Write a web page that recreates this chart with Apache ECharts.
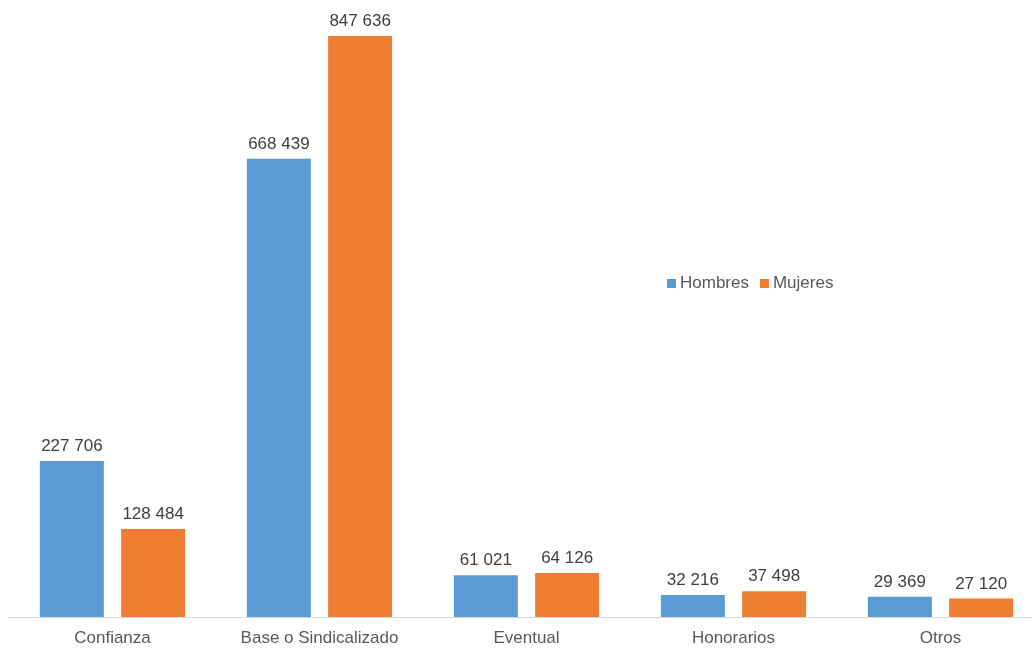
<!DOCTYPE html>
<html>
<head>
<meta charset="utf-8">
<script src="https://cdn.jsdelivr.net/npm/echarts@6/dist/echarts.min.js"></script>
<style>
  html, body { margin: 0; padding: 0; background: #ffffff; overflow: hidden; }
  /* the last category runs slightly past the right edge of the page */
  #chart { width: 1044px; height: 648px; }
</style>
</head>
<body>
<div id="chart"></div>
<script>
// Personas por tipo de contratación, según sexo
const categories = ['Confianza', 'Base o Sindicalizado', 'Eventual', 'Honorarios', 'Otros'];
const hombres = [227706, 668439, 61021, 32216, 29369];
const mujeres = [128484, 847636, 64126, 37498, 27120];

const fontFamily = 'Liberation Sans, Arial, sans-serif';

// "847 636" style: space as thousands separator
function fmt(v) {
  return String(v).replace(/\B(?=(\d{3})+(?!\d))/g, ' ');
}

const label = {
  show: true,
  position: 'top',
  distance: 6,
  color: '#404040',
  fontSize: 17,
  fontFamily: fontFamily,
  formatter: p => fmt(p.value)
};

const chart = echarts.init(document.getElementById('chart'), null, { renderer: 'canvas' });
chart.setOption({
  animation: false,
  backgroundColor: '#ffffff',
  legend: {
    left: 662,
    top: 270,
    icon: 'rect',
    itemWidth: 9,
    itemHeight: 9,
    itemGap: 11,
    textStyle: { color: '#595959', fontSize: 17, fontFamily: fontFamily, padding: [0, 0, 0, -1] },
    data: ['Hombres', 'Mujeres']
  },
  grid: { left: 9, top: 0, right: 0, bottom: 31, containLabel: false },
  xAxis: {
    type: 'category',
    data: categories,
    axisLine: { lineStyle: { color: '#d9d9d9', width: 1 } },
    axisTick: { show: false },
    axisLabel: { interval: 0, color: '#595959', fontSize: 17, fontFamily: fontFamily, margin: 13 }
  },
  yAxis: {
    type: 'value',
    min: 0,
    max: 900000,
    show: false,
    splitLine: { show: false }
  },
  series: [
    {
      name: 'Hombres',
      type: 'bar',
      data: hombres,
      barWidth: 64,
      barGap: '27%',
      itemStyle: { color: '#5B9BD5' },
      label: label
    },
    {
      name: 'Mujeres',
      type: 'bar',
      data: mujeres,
      barWidth: 64,
      itemStyle: { color: '#ED7D31' },
      label: label
    }
  ]
});
</script>
</body>
</html>
